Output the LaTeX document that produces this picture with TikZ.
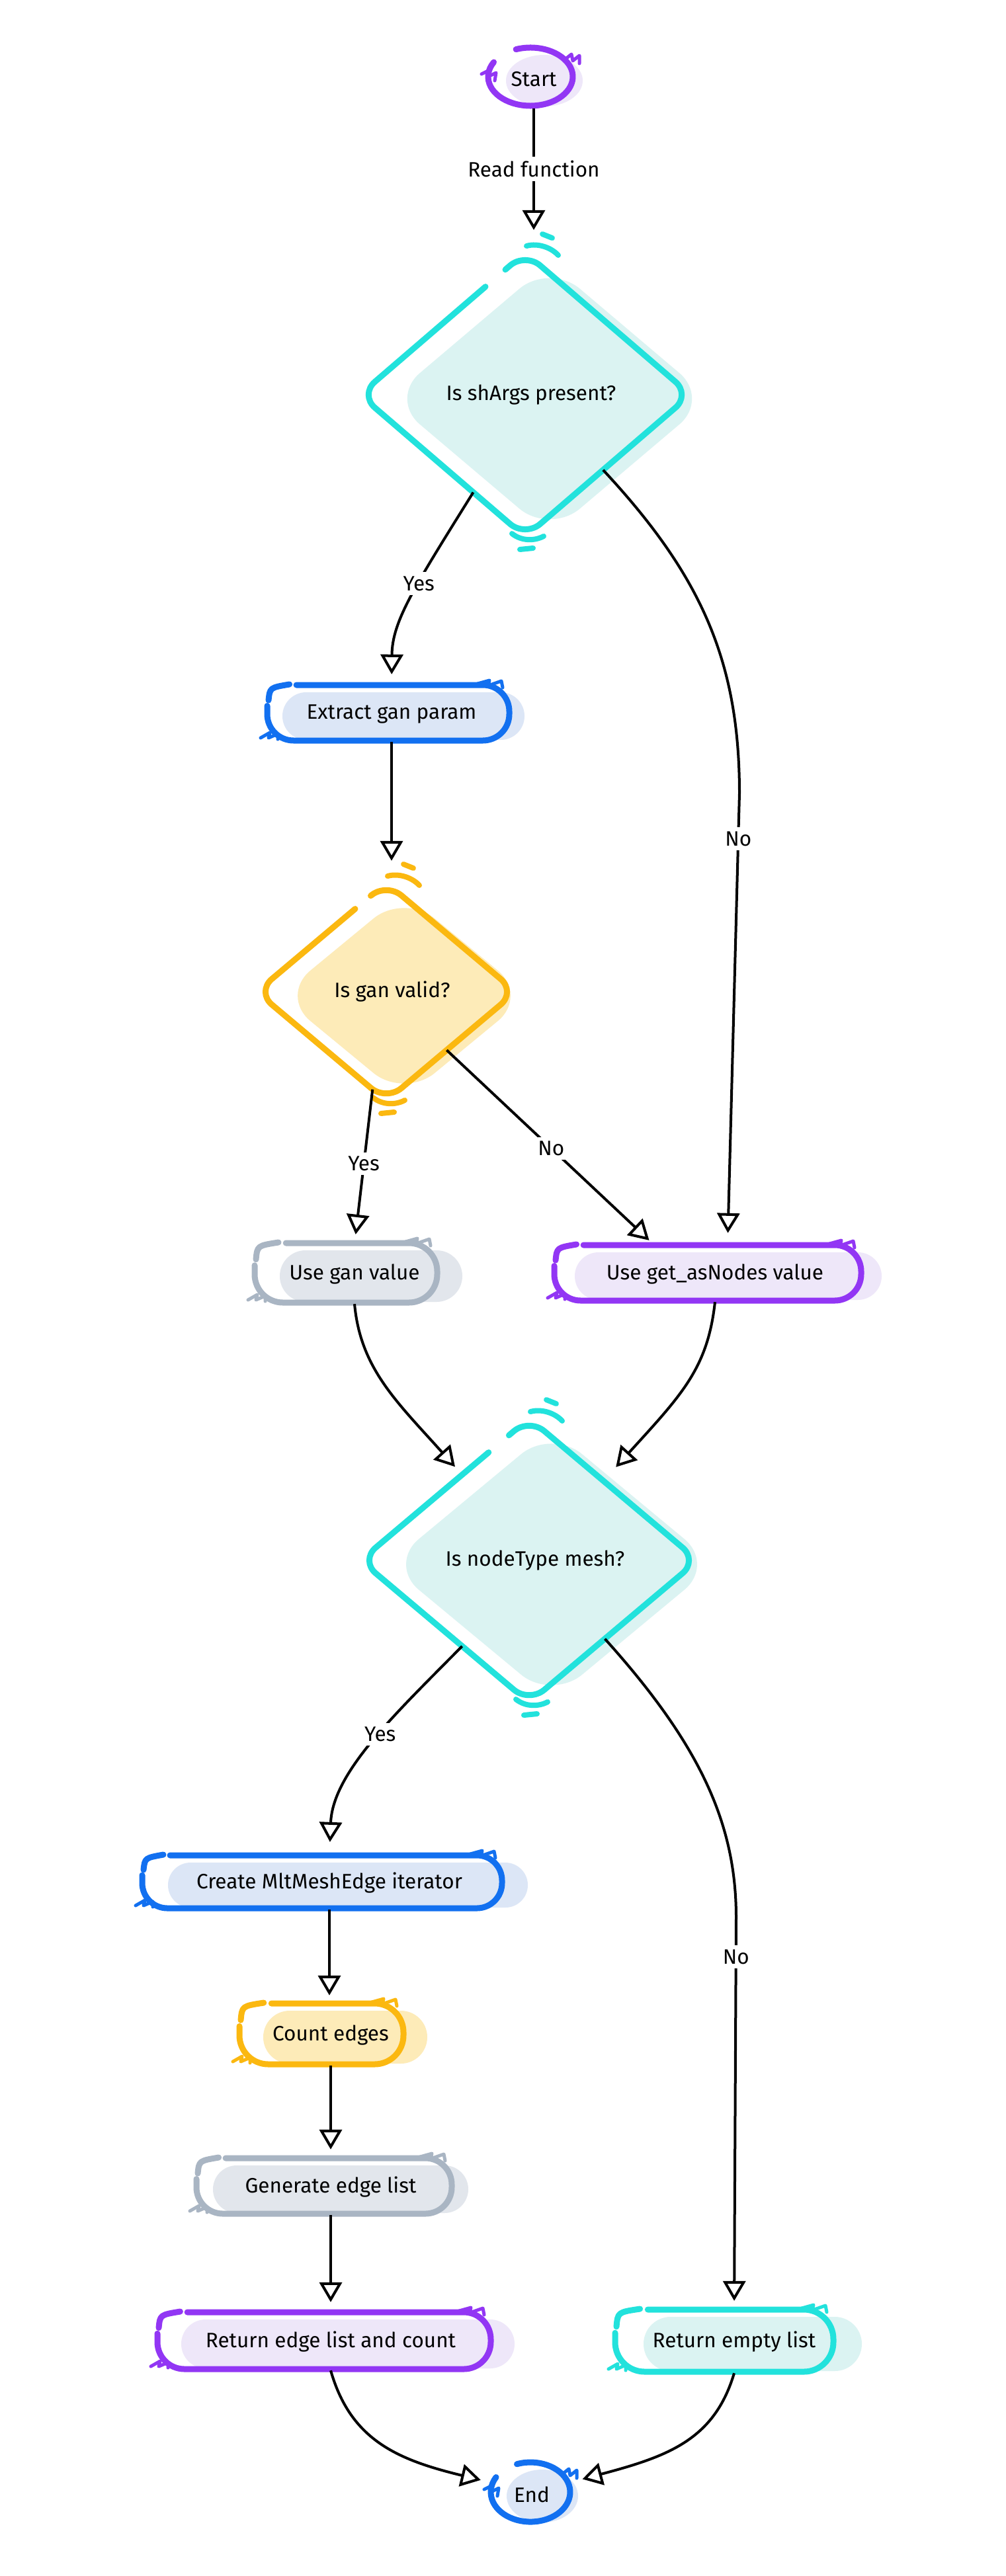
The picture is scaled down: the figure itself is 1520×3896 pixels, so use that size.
\documentclass[tikz,border=0pt]{standalone}
\usepackage{fontspec}
\setmainfont{Fira Sans}
\usetikzlibrary{arrows.meta,shapes.geometric,calc}

\definecolor{purS}{HTML}{9236F4}
\definecolor{purF}{HTML}{EEE7F9}
\definecolor{cyaS}{HTML}{22E2DC}
\definecolor{cyaF}{HTML}{DBF3F2}
\definecolor{bluS}{HTML}{1270F0}
\definecolor{bluF}{HTML}{DCE6F6}
\definecolor{yelS}{HTML}{FBB810}
\definecolor{yelF}{HTML}{FDEBB8}
\definecolor{graS}{HTML}{A9B5C3}
\definecolor{graF}{HTML}{E2E6EC}

\tikzset{
  sk/.style={line width=9pt, line cap=round, line join=round},
  scr/.style={line width=5pt, line cap=round, line join=round},
  txt/.style={font=\fontsize{31.5}{38}\selectfont, text=black, inner sep=0pt},
  arr/.style={line width=4pt, black, -{Triangle[open, length=30pt, width=34pt, line width=4pt]}},
  lbl/.style={font=\fontsize{31.5}{38}\selectfont, fill=white, inner sep=6pt, text=black},
}

% name, tx, ty, hw, hh, col, text, sdx, fdx
\newcommand\pill[9]{%
  \pgfmathsetmacro\sx{#2+#8}\pgfmathsetmacro\sy{#3-2}%
  \pgfmathsetmacro\fx{#2+#9}\pgfmathsetmacro\fy{#3+3}%
  \pgfmathsetmacro\W{#4}\pgfmathsetmacro\H{#5}\pgfmathsetmacro\FH{#5-6}%
  \pgfmathsetmacro\R{0.95*#5}%
  \fill[#6F, rounded corners=\FH pt] (\fx-\W,\fy-\FH) rectangle (\fx+\W,\fy+\FH);
  \begin{scope}[shift={(\sx,\sy)}]
    \draw[sk, #6S, rounded corners=\R pt] (-\W+1.05*\H,-\H) -- (\W,-\H) -- (\W,\H) -- (-\W,\H) -- (-\W,-0.25*\H);
    \draw[sk, #6S] (-\W+2,-0.45*\H) .. controls (-\W+4,-\H+4) .. (-\W+0.8*\H,-\H-1);
    \draw[scr, #6S] (\W-48,-\H-2) -- (\W-30,-\H-7) -- (\W-32,-\H+1) -- (\W-12,-\H-6) -- (\W-10,-\H+4);
    \draw[scr, #6S] (-\W-10,\H-4) -- (-\W+4,\H-12) -- (-\W+2,\H-4) -- (-\W+16,\H-10) -- (-\W+16,\H-2);
  \end{scope}
  \node[txt, minimum width=2*\W pt, minimum height=2*\H pt] (#1) at (#2,#3) {#7};
}

% name, cx, cy, hw, hh, col, text, fdx, fdy
\newcommand\dia[9]{%
  \pgfmathsetmacro\fx{#2+#8}\pgfmathsetmacro\fy{#3+#9}%
  \pgfmathsetmacro\FW{#4-8}\pgfmathsetmacro\FH{#5-10}%
  \fill[#6F, rounded corners=60pt] (\fx,\fy-\FH) -- (\fx+\FW,\fy) -- (\fx,\fy+\FH) -- (\fx-\FW,\fy) -- cycle;
  \begin{scope}[shift={(#2,#3)}]
    \draw[sk, #6S, rounded corners=30pt] (-0.12*#4,-0.88*#5) -- (0,-#5) -- (#4,0) -- (0,#5) -- (-#4,0) -- (-0.24*#4,-0.76*#5);
    \pgfmathsetmacro\tp{-#5+20}\pgfmathsetmacro\bt{#5-15}%
    \draw[#6S, line width=8pt, line cap=round] (2,\tp-30) .. controls (20,\tp-35) and (40,\tp-27) .. (50,\tp-16);
    \draw[#6S, line width=8pt, line cap=round] (26,\tp-48) -- (41,\tp-42);
    \draw[#6S, line width=8pt, line cap=round] (-20,\bt+10) .. controls (-5,\bt+22) and (15,\bt+21) .. (28,\bt+14);
    \draw[#6S, line width=8pt, line cap=round] (-8,\bt+34) -- (12,\bt+32);
  \end{scope}
  \node[txt, shape=diamond, minimum width=2*#4 pt, minimum height=2*#5 pt] (#1) at (#2,#3) {\hspace*{18pt}#7};
}

% name, tx, ty, rx, ry, col, text, sdx, fdx
\newcommand\term[9]{%
  \pgfmathsetmacro\sx{#2+#8}\pgfmathsetmacro\sy{#3-4}%
  \pgfmathsetmacro\fx{#2+#9}\pgfmathsetmacro\fy{#3+2}%
  \fill[#6F] (\fx,\fy) ellipse[x radius=#4-6, y radius=#5-5];
  \draw[sk, #6S] (\sx,\sy) ++(250:#4 and #5) arc[start angle=250, end angle=570, x radius=#4, y radius=#5];
  \begin{scope}[shift={(\sx,\sy)}]
    \draw[scr, #6S] (-#4-10,-4) -- (-#4+2,-10) -- (-#4,0) -- (-#4+12,-6) -- (-#4+10,6);
    \draw[scr, #6S] (#4-12,-#5+18) -- (#4-2,-#5+10) -- (#4,-#5+20) -- (#4+10,-#5+12) -- (#4+10,-#5+24);
  \end{scope}
  \node[txt, ellipse, minimum width=2*#4 pt, minimum height=2*#5 pt] (#1) at (#2,#3) {#7};
}

\begin{document}
\begin{tikzpicture}[x=1pt,y=-1pt]
\fill[white] (0,0) rectangle (1520,3896);
\useasboundingbox (0,0) rectangle (1520,3896);

% ---------- nodes ----------
\term{start}{807}{120}{64}{44}{pur}{Start}{-5}{16}
\dia{d1}{794}{597}{250}{215}{cya}{Is shArgs present?}{37}{6}
\pill{extract}{592}{1080}{183}{42}{blu}{Extract gan param}{-5}{18}
\dia{d2}{584}{1500}{196}{165}{yel}{Is gan valid?}{27}{6}
\pill{usegan}{536}{1927}{138}{45}{gra}{Use gan value}{-13}{25}
\pill{getas}{1081}{1927}{232}{42}{pur}{Use get\_asNodes value}{-11}{20}
\dia{d3}{800}{2360}{255}{215}{cya}{Is nodeType mesh?}{34}{6}
\pill{create}{498}{2848}{272}{40}{blu}{Create MltMeshEdge iterator}{-11}{28}
\pill{count}{500}{3078}{124}{46}{yel}{Count edges}{-14}{22}
\pill{generate}{500}{3308}{193}{42}{gra}{Generate edge list}{-10}{15}
\pill{retedge}{500}{3542}{252}{43}{pur}{Return edge list and count}{-10}{26}
\pill{retempty}{1110}{3542}{165}{47}{cya}{Return empty list}{-15}{28}
\term{end}{804}{3773}{60}{45}{blu}{End}{-2}{16}

% ---------- connectors ----------
\draw[arr, shorten >=34pt] (start.south) -- node[lbl, pos=0.42]{Read function} (start.south |- d1.north);

\draw[arr, shorten >=18pt] (d1.242) .. controls (625,890) and (593,940) .. node[lbl, pos=0.4]{Yes} (extract.north);
\draw[arr, shorten >=20pt] (d1.316) .. controls (1060,870) and (1118,1000) .. (1118,1200) -- node[lbl, pos=0.1]{No} ($(getas.north)+(19,0)$);

\draw[arr, shorten >=33pt] (extract.south) -- (extract.south |- d2.north);

\draw[arr, shorten >=15pt] (d2.262) -- node[lbl, pos=0.48]{Yes} (usegan.north);
\draw[arr, shorten >=13pt] (d2.316) -- node[lbl, pos=0.5]{No} ($(getas.north)+(-90,0)$);

\draw[arr, shorten >=16pt] (usegan.south) .. controls (545,2070) and (600,2120) .. (d3.128);
\draw[arr, shorten >=28pt] (getas.south) .. controls (1070,2070) and (1030,2110) .. (d3.47);

\draw[arr, shorten >=22pt] (d3.232) .. controls (600,2590) and (503,2680) .. node[lbl, pos=0.45]{Yes} (create.north);
\draw[arr, shorten >=15pt] (d3.314) .. controls (1060,2640) and (1113,2760) .. (1113,2900) -- node[lbl, pos=0.1]{No} (retempty.north);

\draw[arr, shorten >=14pt] (create.south) -- (create.south |- count.north);
\draw[arr, shorten >=15pt] (count.south) -- (count.south |- generate.north);
\draw[arr, shorten >=17pt] (generate.south) -- (generate.south |- retedge.north);

\draw[arr, shorten >=22pt] (retedge.south) .. controls (530,3690) and (600,3720) .. (end.163);
\draw[arr, shorten >=22pt] (retempty.south) .. controls (1080,3690) and (1010,3715) .. (end.18);
\end{tikzpicture}
\end{document}
